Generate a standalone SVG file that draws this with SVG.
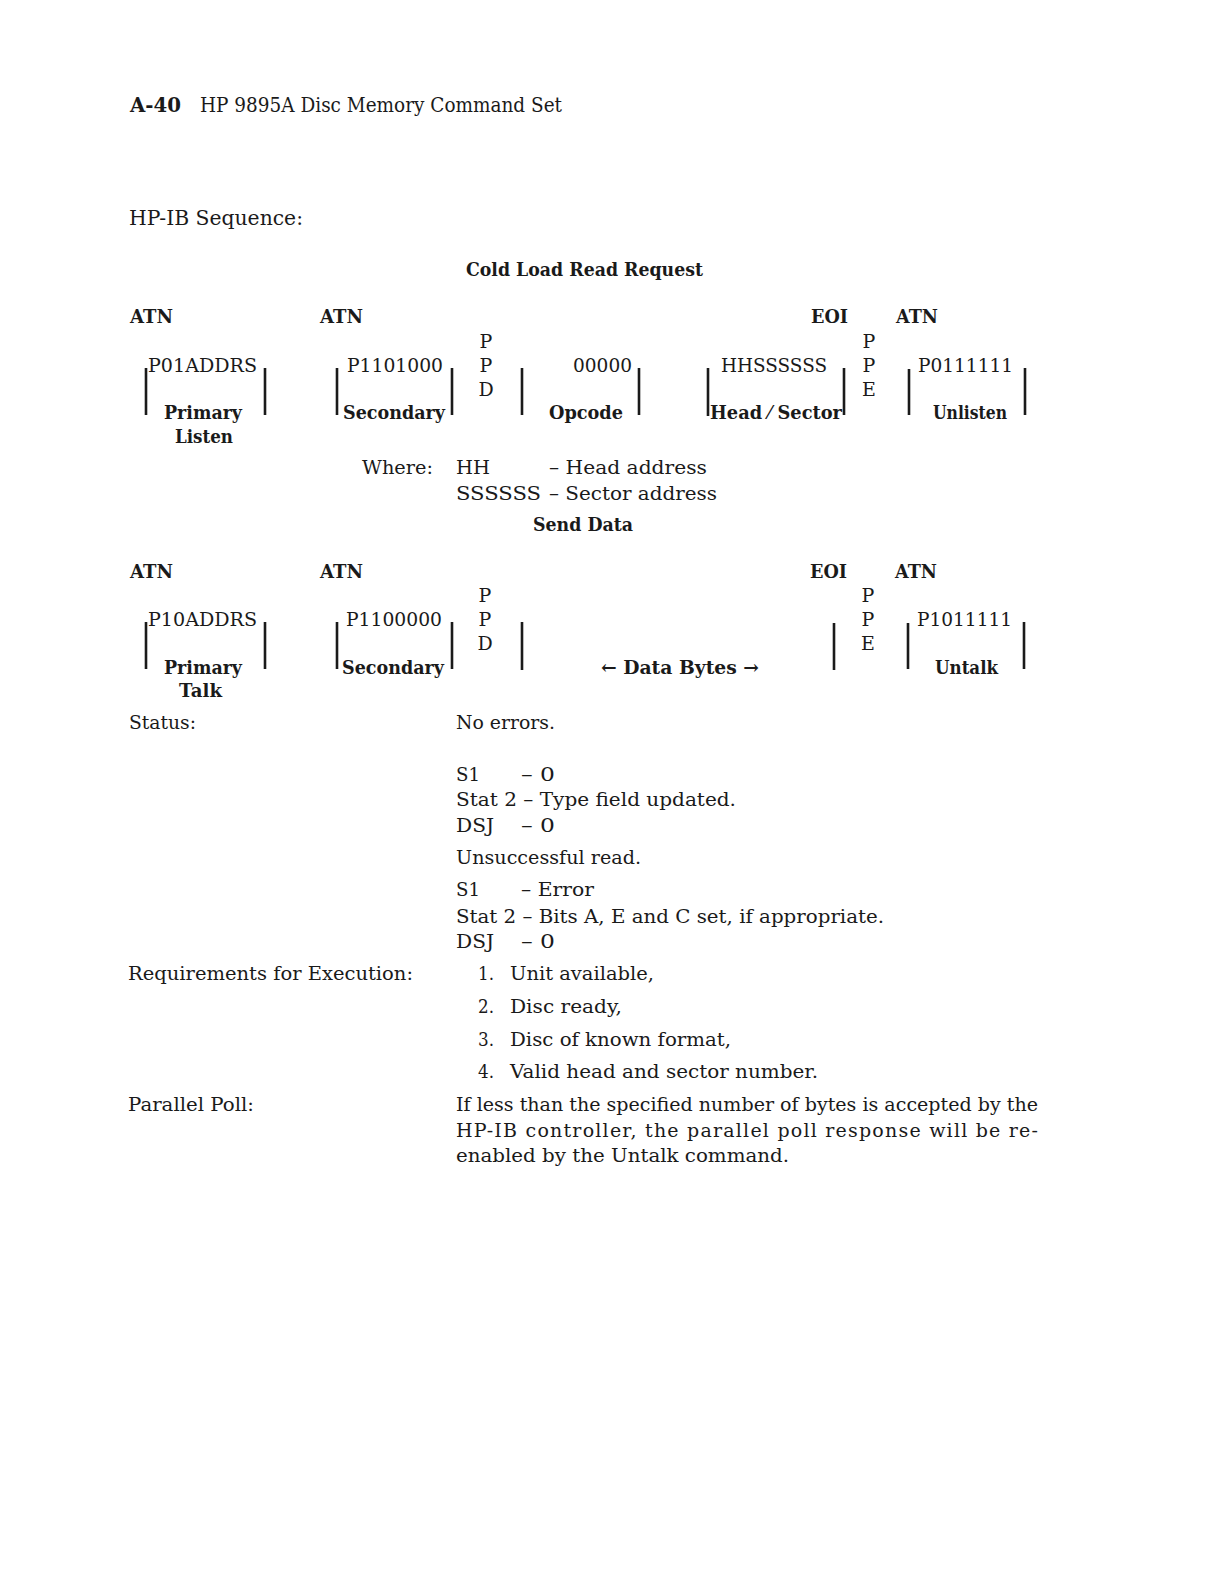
<svg xmlns="http://www.w3.org/2000/svg" width="1224" height="1582" viewBox="0 0 1224 1582">
<style>
text{font-family:"DejaVu Serif","Liberation Serif",serif;font-size:19px;fill:#1a1a1a}
.b{font-weight:bold}
.h{font-size:20px}
.bar{stroke:#1a1a1a;stroke-width:2.6;fill:none}
</style>
<rect x="0" y="0" width="1224" height="1582" fill="#ffffff"/>

<g id="header">
<text class="b h" x="130" y="112" textLength="51" lengthAdjust="spacingAndGlyphs">A-40</text>
<text class="h" x="200" y="112" textLength="362" lengthAdjust="spacingAndGlyphs">HP 9895A Disc Memory Command Set</text>
<text class="h" x="129" y="225" textLength="174" lengthAdjust="spacingAndGlyphs">HP-IB Sequence:</text>
</g>

<g id="title-cold-load">
<text class="b" x="466" y="276" textLength="237" lengthAdjust="spacingAndGlyphs">Cold Load Read Request</text>
</g>

<!-- Row 1 -->
<g id="row1-signals">
<text class="b" x="130" y="323" textLength="43" lengthAdjust="spacingAndGlyphs">ATN</text>
<text class="b" x="320" y="323" textLength="43" lengthAdjust="spacingAndGlyphs">ATN</text>
<text class="b" x="811" y="323" textLength="37" lengthAdjust="spacingAndGlyphs">EOI</text>
<text class="b" x="896" y="323" textLength="42" lengthAdjust="spacingAndGlyphs">ATN</text>
</g>
<g id="r1-primary-listen">
<line class="bar" x1="146" y1="368" x2="146" y2="415"/>
<line class="bar" x1="265" y1="368" x2="265" y2="415"/>
<text x="148" y="372" textLength="109" lengthAdjust="spacingAndGlyphs">P01ADDRS</text>
<text class="b" x="164" y="419" textLength="78" lengthAdjust="spacingAndGlyphs">Primary</text>
<text class="b" x="175" y="443" textLength="58" lengthAdjust="spacingAndGlyphs">Listen</text>
</g>
<g id="r1-secondary">
<line class="bar" x1="337" y1="368" x2="337" y2="415"/>
<line class="bar" x1="452" y1="368" x2="452" y2="415"/>
<text x="347" y="372" textLength="96" lengthAdjust="spacingAndGlyphs">P1101000</text>
<text class="b" x="343" y="419" textLength="102" lengthAdjust="spacingAndGlyphs">Secondary</text>
</g>
<g id="r1-ppd">
<text x="486" y="348" text-anchor="middle">P</text>
<text x="486" y="372" text-anchor="middle">P</text>
<text x="486" y="396" text-anchor="middle">D</text>
</g>
<g id="r1-opcode">
<line class="bar" x1="522" y1="368" x2="522" y2="415"/>
<line class="bar" x1="639" y1="368" x2="639" y2="415"/>
<text x="573" y="372" textLength="59" lengthAdjust="spacingAndGlyphs">00000</text>
<text class="b" x="549" y="419" textLength="74" lengthAdjust="spacingAndGlyphs">Opcode</text>
</g>
<g id="r1-head-sector">
<line class="bar" x1="708" y1="368" x2="708" y2="416"/>
<line class="bar" x1="844" y1="368" x2="844" y2="415"/>
<text x="721" y="372" textLength="106" lengthAdjust="spacingAndGlyphs">HHSSSSSS</text>
<text class="b" x="710" y="419" textLength="132" lengthAdjust="spacingAndGlyphs">Head ⁄ Sector</text>
</g>
<g id="r1-ppe">
<text x="869" y="348" text-anchor="middle">P</text>
<text x="869" y="372" text-anchor="middle">P</text>
<text x="869" y="396" text-anchor="middle">E</text>
</g>
<g id="r1-unlisten">
<line class="bar" x1="909" y1="369" x2="909" y2="415"/>
<line class="bar" x1="1025" y1="368" x2="1025" y2="415"/>
<text x="918" y="372" textLength="95" lengthAdjust="spacingAndGlyphs">P0111111</text>
<text class="b" x="933" y="419" textLength="74" lengthAdjust="spacingAndGlyphs">Unlisten</text>
</g>

<g id="where">
<text x="362" y="474" textLength="71" lengthAdjust="spacingAndGlyphs">Where:</text>
<text x="456" y="474" textLength="34" lengthAdjust="spacingAndGlyphs">HH</text>
<text x="549" y="474" textLength="158" lengthAdjust="spacingAndGlyphs">– Head address</text>
<text x="456" y="500" textLength="85" lengthAdjust="spacingAndGlyphs">SSSSSS</text>
<text x="549" y="500" textLength="168" lengthAdjust="spacingAndGlyphs">– Sector address</text>
</g>

<g id="title-send-data">
<text class="b" x="533" y="531" textLength="100" lengthAdjust="spacingAndGlyphs">Send Data</text>
</g>

<!-- Row 2 -->
<g id="row2-signals">
<text class="b" x="130" y="578" textLength="43" lengthAdjust="spacingAndGlyphs">ATN</text>
<text class="b" x="320" y="578" textLength="43" lengthAdjust="spacingAndGlyphs">ATN</text>
<text class="b" x="810" y="578" textLength="37" lengthAdjust="spacingAndGlyphs">EOI</text>
<text class="b" x="895" y="578" textLength="42" lengthAdjust="spacingAndGlyphs">ATN</text>
</g>
<g id="r2-primary-talk">
<line class="bar" x1="146" y1="622" x2="146" y2="669"/>
<line class="bar" x1="265" y1="622" x2="265" y2="669"/>
<text x="148" y="626" textLength="109" lengthAdjust="spacingAndGlyphs">P10ADDRS</text>
<text class="b" x="164" y="674" textLength="78" lengthAdjust="spacingAndGlyphs">Primary</text>
<text class="b" x="179" y="697" textLength="43" lengthAdjust="spacingAndGlyphs">Talk</text>
</g>
<g id="r2-secondary">
<line class="bar" x1="337" y1="622" x2="337" y2="669"/>
<line class="bar" x1="452" y1="622" x2="452" y2="669"/>
<text x="346" y="626" textLength="96" lengthAdjust="spacingAndGlyphs">P1100000</text>
<text class="b" x="342" y="674" textLength="102" lengthAdjust="spacingAndGlyphs">Secondary</text>
</g>
<g id="r2-ppd">
<text x="485" y="602" text-anchor="middle">P</text>
<text x="485" y="626" text-anchor="middle">P</text>
<text x="485" y="650" text-anchor="middle">D</text>
</g>
<g id="r2-data-bytes">
<line class="bar" x1="522" y1="622" x2="522" y2="670"/>
<line class="bar" x1="834" y1="623" x2="834" y2="670"/>
<text class="b" x="601" y="674" textLength="158" lengthAdjust="spacingAndGlyphs">← Data Bytes →</text>
</g>
<g id="r2-ppe">
<text x="868" y="602" text-anchor="middle">P</text>
<text x="868" y="626" text-anchor="middle">P</text>
<text x="868" y="650" text-anchor="middle">E</text>
</g>
<g id="r2-untalk">
<line class="bar" x1="908" y1="623" x2="908" y2="669"/>
<line class="bar" x1="1024" y1="622" x2="1024" y2="669"/>
<text x="917" y="626" textLength="95" lengthAdjust="spacingAndGlyphs">P1011111</text>
<text class="b" x="935" y="674" textLength="63" lengthAdjust="spacingAndGlyphs">Untalk</text>
</g>

<g id="status">
<text x="129" y="729" textLength="67" lengthAdjust="spacingAndGlyphs">Status:</text>
<text x="456" y="729" textLength="99" lengthAdjust="spacingAndGlyphs">No errors.</text>
<text x="456" y="781" textLength="24" lengthAdjust="spacingAndGlyphs">S1</text>
<text x="521" y="781" textLength="34" lengthAdjust="spacingAndGlyphs">– 0</text>
<text x="456" y="806" textLength="280" lengthAdjust="spacingAndGlyphs">Stat 2 – Type field updated.</text>
<text x="456" y="832" textLength="38" lengthAdjust="spacingAndGlyphs">DSJ</text>
<text x="521" y="832" textLength="34" lengthAdjust="spacingAndGlyphs">– 0</text>
<text x="456" y="864" textLength="185" lengthAdjust="spacingAndGlyphs">Unsuccessful read.</text>
<text x="456" y="896" textLength="24" lengthAdjust="spacingAndGlyphs">S1</text>
<text x="521" y="896" textLength="73" lengthAdjust="spacingAndGlyphs">– Error</text>
<text x="456" y="923" textLength="428" lengthAdjust="spacingAndGlyphs">Stat 2 – Bits A, E and C set, if appropriate.</text>
<text x="456" y="948" textLength="38" lengthAdjust="spacingAndGlyphs">DSJ</text>
<text x="521" y="948" textLength="34" lengthAdjust="spacingAndGlyphs">– 0</text>
</g>

<g id="requirements">
<text x="128" y="980" textLength="285" lengthAdjust="spacingAndGlyphs">Requirements for Execution:</text>
<text x="478" y="980" textLength="16" lengthAdjust="spacingAndGlyphs">1.</text>
<text x="510" y="980" textLength="144" lengthAdjust="spacingAndGlyphs">Unit available,</text>
<text x="478" y="1013" textLength="16" lengthAdjust="spacingAndGlyphs">2.</text>
<text x="510" y="1013" textLength="112" lengthAdjust="spacingAndGlyphs">Disc ready,</text>
<text x="478" y="1046" textLength="16" lengthAdjust="spacingAndGlyphs">3.</text>
<text x="510" y="1046" textLength="221" lengthAdjust="spacingAndGlyphs">Disc of known format,</text>
<text x="478" y="1078" textLength="16" lengthAdjust="spacingAndGlyphs">4.</text>
<text x="510" y="1078" textLength="308" lengthAdjust="spacingAndGlyphs">Valid head and sector number.</text>
</g>

<g id="parallel-poll">
<text x="128" y="1111" textLength="126" lengthAdjust="spacingAndGlyphs">Parallel Poll:</text>
<text x="456" y="1111" textLength="582" lengthAdjust="spacingAndGlyphs">If less than the specified number of bytes is accepted by the</text>
<text x="456" y="1137" textLength="582" lengthAdjust="spacing">HP-IB controller, the parallel poll response will be re-</text>
<text x="456" y="1162" textLength="333" lengthAdjust="spacingAndGlyphs">enabled by the Untalk command.</text>
</g>
</svg>
